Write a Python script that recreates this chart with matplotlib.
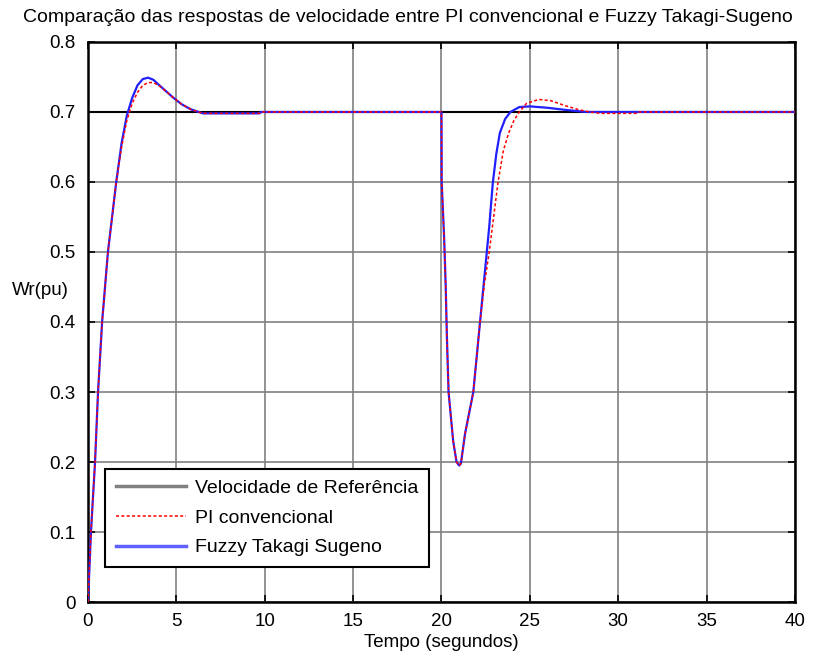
import matplotlib.pyplot as plt

plt.rcParams['font.family'] = ['Liberation Sans', 'DejaVu Sans']

# reference speed
t_ref = [0, 40]
w_ref = [0.7, 0.7]

# fuzzy takagi-sugeno response
t_fuzzy = [0, 0.17, 0.4, 0.57, 0.8, 1.13, 1.6, 1.9, 2.2, 2.5, 2.8, 3.1, 3.4, 3.7, 4.0,
           4.4, 4.8, 5.3, 5.8, 6.5, 7.5, 9.7, 9.8, 20.0,
           20.01, 20.15, 20.24, 20.3, 20.4, 20.66, 20.85, 21.0, 21.1, 21.33, 21.8, 22.18,
           22.43, 22.7, 22.9, 23.1, 23.3, 23.6, 23.9, 24.4, 25.0, 26.0, 27.0, 28.2, 40]
w_fuzzy = [0, 0.1, 0.2, 0.3, 0.4, 0.5, 0.6, 0.655, 0.695, 0.72, 0.738, 0.747, 0.749, 0.746, 0.739,
           0.73, 0.721, 0.711, 0.704, 0.698, 0.698, 0.698, 0.7, 0.7,
           0.6, 0.52, 0.449, 0.384, 0.3, 0.23, 0.2, 0.195, 0.198, 0.24, 0.30, 0.40,
           0.465, 0.536, 0.598, 0.64, 0.67, 0.69, 0.700, 0.707, 0.708, 0.706, 0.703, 0.700, 0.7]

# conventional PI response
t_pi = [0, 0.17, 0.4, 0.57, 0.8, 1.13, 1.6, 1.9, 2.2, 2.5, 2.8, 3.1, 3.4, 3.7, 4.0,
        4.4, 4.8, 5.3, 5.8, 6.5, 7.5, 9.7, 9.8, 20.0,
        20.01, 20.15, 20.24, 20.3, 20.4, 20.66, 20.85, 21.0, 21.1, 21.33, 21.8, 22.18,
        22.43, 22.7, 23.2, 23.5, 23.8, 24.1, 24.4, 24.8, 25.5, 26.2, 27.0, 27.8, 28.4,
        29.0, 31.0, 31.1, 40]
w_pi = [0, 0.1, 0.2, 0.3, 0.4, 0.5, 0.6, 0.65, 0.688, 0.712, 0.728, 0.738, 0.742, 0.742, 0.738,
        0.73, 0.721, 0.711, 0.704, 0.698, 0.698, 0.698, 0.7, 0.7,
        0.6, 0.52, 0.449, 0.384, 0.3, 0.23, 0.2, 0.195, 0.198, 0.24, 0.30, 0.40,
        0.455, 0.5, 0.6, 0.645, 0.67, 0.688, 0.70, 0.712, 0.718, 0.716, 0.709, 0.703, 0.700,
        0.698, 0.698, 0.7, 0.7]

fig = plt.figure(figsize=(8.16, 6.62), dpi=100)
ax = fig.add_axes([0.1078, 0.0906, 0.8665, 0.846])

ax.plot(t_ref, w_ref, color='black', lw=1.5, label='Velocidade de Referência', zorder=2)
ax.plot(t_pi, w_pi, color='red', lw=1.1, ls=(0, (2, 1.5)), label='PI convencional', zorder=4)
ax.plot(t_fuzzy, w_fuzzy, color='#2020ff', lw=1.6, label='Fuzzy Takagi Sugeno', zorder=3)

ax.set_xlim(0, 40)
ax.set_ylim(0, 0.8)
ax.set_xticks(range(0, 41, 5))
ax.set_yticks([0, 0.1, 0.2, 0.3, 0.4, 0.5, 0.6, 0.7, 0.8])
ax.set_yticklabels(['0', '0.1', '0.2', '0.3', '0.4', '0.5', '0.6', '0.7', '0.8'])
ax.grid(True, color='#808080', lw=1.2)
ax.tick_params(direction='in', top=True, right=True, labelsize=13.5, length=5, width=1.2)
ax.tick_params(axis='y', pad=9)
ax.tick_params(axis='x', pad=8)
for s in ax.spines.values():
    s.set_linewidth(1.8)

fig.text(0.5, 1 - 17 / 662,
         'Comparação das respostas de velocidade entre PI convencional e Fuzzy Takagi-Sugeno',
         ha='center', va='center', fontsize=14)
ax.set_xlabel('Tempo (segundos)', fontsize=13.5, labelpad=3)
ax.set_ylabel('Wr(pu)', fontsize=13.5, rotation=0, ha='center', va='center')
ax.yaxis.set_label_coords(-0.068, 0.557)

leg = ax.legend(loc='lower left', bbox_to_anchor=(0.024, 0.0625), borderaxespad=0,
                fancybox=False, edgecolor='black', framealpha=1, fontsize=14,
                handlelength=3.6, handletextpad=0.5, borderpad=0.55, labelspacing=0.62)
leg.get_frame().set_linewidth(1.5)
leg.legend_handles[0].set_color('gray')
leg.legend_handles[0].set_linewidth(2.5)
leg.legend_handles[2].set_color('#6060ff')
leg.legend_handles[2].set_linewidth(2.5)

fig.savefig('out.png', dpi=100)
